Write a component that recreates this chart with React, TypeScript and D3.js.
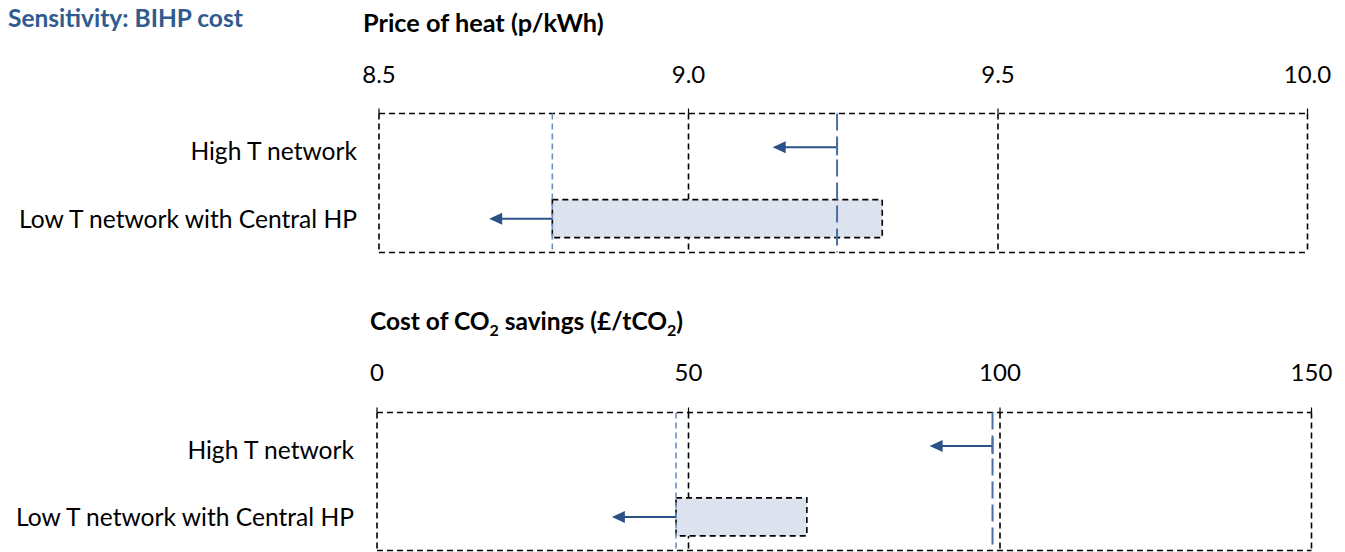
import React from "react";
import * as d3 from "d3";

const categories = ["High T network", "Low T network with Central HP"];

const heatTicks = [8.5, 9.0, 9.5, 10.0];
const heatRefLine = [9.24, 8.78];
const heatBarEnd: (number | null)[] = [null, 9.313];
const heatArrowTip = [9.136, 8.678];

const co2Ticks = [0, 50, 100, 150];
const co2RefLine = [98.8, 48.0];
const co2BarEnd: (number | null)[] = [null, 69.0];
const co2ArrowTip = [88.7, 37.7];

const W = 1345;
const H = 552;
const FONT = "Lato, 'Open Sans', sans-serif";
const NAVY = "#2b5186";
const LIGHT_LINE = "#6d8fc0";
const MID_LINE = "#4a6fa5";
const BAR_FILL = "#dde3ee";

type PanelProps = {
  title: React.ReactNode;
  titleX: number;
  titleY: number;
  titleSize: number;
  ticks: number[];
  tickFmt: (v: number) => string;
  x0: number;
  x1: number;
  top: number;
  bottom: number;
  tickY: number;
  refLine: number[];
  barEnd: (number | null)[];
  arrowTip: number[];
  labelRight: number;
  labelDy: number[];
};

function Panel(p: PanelProps) {
  const x = d3
    .scaleLinear()
    .domain([p.ticks[0], p.ticks[p.ticks.length - 1]])
    .range([p.x0, p.x1]);
  const y = d3.scaleBand().domain(categories).range([p.top, p.bottom]).paddingInner(0.05).paddingOuter(0.0);
  const bw = y.bandwidth();
  const barH = 38;
  const dash = "6 4";
  return (
    <g>
      <text x={p.titleX} y={p.titleY} fontFamily={FONT} fontWeight={700} fontSize={p.titleSize} fill="#000">
        {p.title}
      </text>
      {p.ticks.map((t) => (
        <text key={"tl" + t} x={x(t)} y={p.tickY} textAnchor="middle" fontFamily={FONT} fontSize={24} fill="#000">
          {p.tickFmt(t)}
        </text>
      ))}
      {p.ticks.map((t) => (
        <line key={"g" + t} x1={x(t)} x2={x(t)} y1={p.top} y2={p.bottom} stroke="#000" strokeWidth={1.6} strokeDasharray={dash} />
      ))}
      {p.ticks.map((t) => (
        <line key={"tk" + t} x1={x(t)} x2={x(t)} y1={p.top - 5} y2={p.top} stroke="#000" strokeWidth={1.2} />
      ))}
      <line x1={p.x0} x2={p.x1} y1={p.top} y2={p.top} stroke="#000" strokeWidth={1.6} strokeDasharray={dash} />
      <line x1={p.x0} x2={p.x1} y1={p.bottom} y2={p.bottom} stroke="#000" strokeWidth={1.6} strokeDasharray={dash} />
      {categories.map((c, i) => {
        const be = p.barEnd[i];
        if (be == null) return null;
        const cy = (y(c) as number) + bw / 2;
        const xa = x(p.refLine[i]);
        const xb = x(be);
        return (
          <rect key={"b" + c} x={Math.min(xa, xb)} y={cy - barH / 2} width={Math.abs(xb - xa)} height={barH}
            fill={BAR_FILL} stroke="#000" strokeWidth={1.6} strokeDasharray={dash} />
        );
      })}
      {p.refLine.map((v, i) => (
        <line key={"r" + i} x1={x(v)} x2={x(v)} y1={p.top} y2={p.bottom}
          stroke={i === 0 ? MID_LINE : LIGHT_LINE} strokeWidth={i === 0 ? 2 : 1.6}
          strokeDasharray={i === 0 ? "17 6" : "6 4"} />
      ))}
      {categories.map((c, i) => {
        const cy = (y(c) as number) + bw / 2;
        const xs = x(p.refLine[i]);
        const xt = x(p.arrowTip[i]);
        const head = 13;
        return (
          <g key={"a" + c}>
            <line x1={xs} x2={xt + head - 1} y1={cy} y2={cy} stroke={NAVY} strokeWidth={2} />
            <path d={`M${xt},${cy} L${xt + head},${cy - 6} L${xt + head},${cy + 6} Z`} fill={NAVY} />
            {i === 0 && <line x1={xs} x2={xs} y1={cy - 8} y2={cy + 8} stroke={MID_LINE} strokeWidth={2} />}
          </g>
        );
      })}
      {categories.map((c, i) => (
        <text key={"l" + c} x={p.labelRight} y={(y(c) as number) + bw / 2 + p.labelDy[i]} textAnchor="end"
          dominantBaseline="central" fontFamily={FONT} fontSize={24.6} fill="#000">
          {c}
        </text>
      ))}
    </g>
  );
}

export default function App() {
  return (
    <svg width={W} height={H} style={{ position: "absolute", left: 0, top: 0, background: "#fff" }}>
      <text x={8} y={27} fontFamily={FONT} fontWeight={700} fontSize={24.5} fill="#2f5b8f">
        Sensitivity: BIHP cost
      </text>
      <Panel
        title="Price of heat (p/kWh)"
        titleX={363}
        titleY={32}
        titleSize={25.3}
        ticks={heatTicks}
        tickFmt={(v) => v.toFixed(1)}
        x0={379}
        x1={1307.5}
        top={113.5}
        bottom={252.5}
        tickY={83}
        refLine={heatRefLine}
        barEnd={heatBarEnd}
        arrowTip={heatArrowTip}
        labelRight={357}
        labelDy={[3, 0]}
      />
      <Panel
        title={
          <>
            Cost of CO<tspan fontSize={16} dy={6}>2</tspan>
            <tspan dy={-6}> savings (£/tCO</tspan>
            <tspan fontSize={16} dy={6}>2</tspan>
            <tspan dy={-6}>)</tspan>
          </>
        }
        titleX={370}
        titleY={330}
        titleSize={24.5}
        ticks={co2Ticks}
        tickFmt={(v) => String(v)}
        x0={377}
        x1={1311.5}
        top={412.5}
        bottom={550.5}
        tickY={381}
        refLine={co2RefLine}
        barEnd={co2BarEnd}
        arrowTip={co2ArrowTip}
        labelRight={354}
        labelDy={[3, 0]}
      />
    </svg>
  );
}
